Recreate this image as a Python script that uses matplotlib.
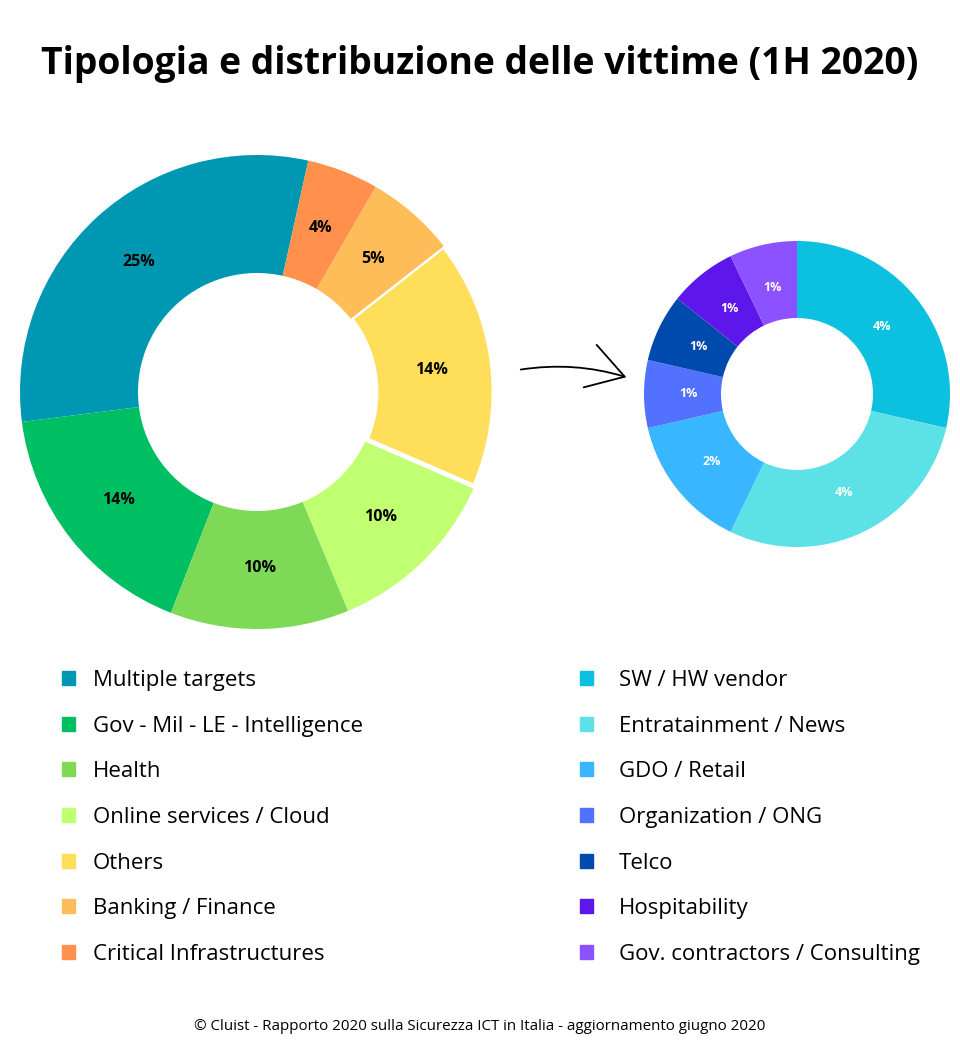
import matplotlib
matplotlib.use("Agg")
import numpy as np
import matplotlib.pyplot as plt
from matplotlib.patches import Patch, FancyArrowPatch

plt.rcParams['font.family'] = ['Open Sans', 'DejaVu Sans']

# dati - donut principale (percentuali sul totale)
main_names = ["Multiple targets", "Gov - Mil - LE - Intelligence", "Health",
              "Online services / Cloud", "Others", "Banking / Finance",
              "Critical Infrastructures"]
main_values = [25, 14, 10, 10, 14, 5, 4]
main_colors = ["#0097B2", "#00BF63", "#7ED957", "#C1FF72", "#FFDE59",
               "#FFBD59", "#FF914D"]

# dettaglio di "Others"
sub_names = ["SW / HW vendor", "Entratainment / News", "GDO / Retail",
             "Organization / ONG", "Telco", "Hospitability",
             "Gov. contractors / Consulting"]
sub_values = [4, 4, 2, 1, 1, 1, 1]
sub_colors = ["#0CC0DF", "#5CE1E6", "#38B6FF", "#5271FF", "#004AAD",
              "#5E17EB", "#8C52FF"]

W, H = 960, 1060
fig = plt.figure(figsize=(W / 100, H / 100), dpi=100)
ax = fig.add_axes([0, 0, 1, 1])


def donut(values, colors, center, radius, hole, start, counterclock, txtcolor, fs, lab_r):
    wedges, _ = ax.pie(values, colors=colors, center=center, radius=radius,
                       startangle=start, counterclock=counterclock,
                       wedgeprops=dict(width=radius - hole, linewidth=0))
    for w, v in zip(wedges, values):
        a = np.deg2rad((w.theta1 + w.theta2) / 2)
        ax.text(center[0] + lab_r * np.cos(a), center[1] + lab_r * np.sin(a),
                f"{v}%", ha="center", va="center", color=txtcolor,
                fontsize=fs, fontweight="bold")
    return wedges


big = donut(main_values, main_colors, (257, 668), 237, 119, 77.5, True, "black", 11.5, 176)
# "Others" evidenziato con bordo bianco
big[4].set_edgecolor("white")
big[4].set_linewidth(3.5)

donut(sub_values, sub_colors, (797, 666), 153, 76, 90, False, "white", 9, 109)

ax.set_xlim(0, W)
ax.set_ylim(0, H)
ax.set_aspect("equal")
ax.axis("off")

# freccia
arr = FancyArrowPatch((518, 690), (629, 682), connectionstyle="arc3,rad=-0.12",
                      arrowstyle="->,head_length=1.3,head_width=0.8",
                      mutation_scale=20, color="black", lw=1.3)
ax.add_patch(arr)

fig.text(0.5, 1 - 64 / H, "Tipologia e distribuzione delle vittime (1H 2020)",
         ha="center", va="center", fontsize=26.8, fontweight="bold")

leg_kw = dict(frameon=False, fontsize=16, handlelength=0.58, handleheight=0.58,
              labelspacing=1.11, borderaxespad=0)
l1 = ax.legend([Patch(color=c) for c in main_colors], main_names,
               loc="upper left", bbox_to_anchor=(53 / W, 1 - 661 / H),
               handletextpad=0.8, **leg_kw)
ax.add_artist(l1)
ax.legend([Patch(color=c) for c in sub_colors], sub_names,
          loc="upper left", bbox_to_anchor=(571 / W, 1 - 661 / H),
          handletextpad=1.18, **leg_kw)

fig.text(0.5, 1 - 1027 / H,
         "© Cluist - Rapporto 2020 sulla Sicurezza ICT in Italia - aggiornamento giugno 2020",
         ha="center", va="center", fontsize=10.9)

fig.savefig("out.png", dpi=100, facecolor="white")
